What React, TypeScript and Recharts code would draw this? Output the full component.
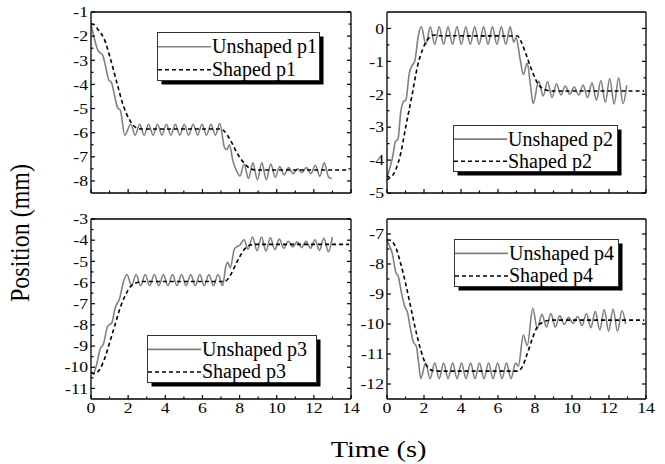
import React from 'react';
import { LineChart, Line, XAxis, YAxis, Legend } from 'recharts';

type Pt = [number, number];

const FONT = '"Liberation Serif", "Times New Roman", Times, serif';
const STRETCH = 1.18; // axis text in the source figure is widened a little

// time axis (s)
const xMajor = [0, 2, 4, 6, 8, 10, 12, 14];
const xMinor = [1, 3, 5, 7, 9, 11, 13];

// position axes (mm)
const p1Ticks = [-8, -7, -6, -5, -4, -3, -2, -1];
const p1Minor = [-7.5, -6.5, -5.5, -4.5, -3.5, -2.5, -1.5];
const p2Ticks = [-5, -4, -3, -2, -1, 0];
const p2Minor = [-4.5, -3.5, -2.5, -1.5, -0.5];
const p3Ticks = [-11, -10, -9, -8, -7, -6, -5, -4, -3];
const p3Minor = [-10.5, -9.5, -8.5, -7.5, -6.5, -5.5, -4.5, -3.5];
const p4Ticks = [-12, -11, -10, -9, -8, -7];
const p4Minor = [-11.5, -10.5, -9.5, -8.5, -7.5];

// [time, position]
const unshapedP1: Pt[] = [
  [0, -1.5], [0.15, -2.0], [0.35, -2.55], [0.5, -2.7], [0.62, -2.78], [0.8, -3.3], [0.95, -3.8], [1.1, -3.92],
  [1.28, -4.5], [1.42, -4.95], [1.58, -5.08], [1.82, -6.1],
  [2.14, -5.65], [2.38, -6.1], [2.62, -5.65], [2.86, -6.1], [3.1, -5.65], [3.34, -6.1], [3.58, -5.65], [3.82, -6.1],
  [4.06, -5.65], [4.3, -6.1], [4.54, -5.65], [4.78, -6.1], [5.02, -5.65], [5.26, -6.1], [5.5, -5.65], [5.74, -6.1],
  [5.98, -5.65], [6.22, -6.1], [6.46, -5.65], [6.7, -6.1], [6.94, -5.62],
  [7.18, -6.6], [7.32, -6.7], [7.45, -6.5], [7.65, -7.2], [7.85, -7.6], [8.02, -7.8],
  [8.24, -7.3], [8.48, -7.9], [8.72, -7.25], [8.96, -7.95], [9.2, -7.25], [9.44, -7.95], [9.68, -7.3], [9.92, -7.85],
  [10.16, -7.4], [10.4, -7.75], [10.64, -7.45], [10.88, -7.7], [11.12, -7.5], [11.36, -7.65], [11.6, -7.45], [11.84, -7.7],
  [12.08, -7.35], [12.32, -7.8], [12.56, -7.25], [12.8, -7.85], [12.96, -7.9],
];
const shapedP1: Pt[] = [
  [0, -1.5], [0.15, -1.52], [0.4, -1.75], [0.7, -2.1], [1.05, -2.95], [1.4, -3.95], [1.75, -4.9], [2.1, -5.5],
  [2.4, -5.78], [2.7, -5.85], [7.0, -5.85], [7.15, -5.92], [7.5, -6.3], [7.87, -6.85], [8.23, -7.25], [8.6, -7.5],
  [8.9, -7.55], [13.9, -7.55],
];

const unshapedP2: Pt[] = [
  [0, -4.55], [0.12, -4.3], [0.29, -3.95], [0.45, -3.45], [0.6, -3.35], [0.74, -2.55], [0.9, -2.22], [1.02, -2.18],
  [1.2, -1.37], [1.36, -1.12], [1.5, -1.0], [1.7, -0.2], [1.86, 0.05],
  [2.1, -0.48], [2.34, 0.05], [2.58, -0.48], [2.82, 0.05], [3.06, -0.48], [3.3, 0.05], [3.54, -0.48], [3.78, 0.05],
  [4.02, -0.48], [4.26, 0.05], [4.5, -0.48], [4.74, 0.05], [4.98, -0.48], [5.22, 0.05], [5.46, -0.48], [5.7, 0.05],
  [5.94, -0.48], [6.18, 0.05], [6.42, -0.48], [6.66, 0.05],
  [6.85, -0.42], [6.98, -0.28], [7.2, -0.95], [7.37, -1.4], [7.58, -1.05], [7.75, -1.7], [7.9, -2.28],
  [8.2, -1.6], [8.44, -2.05], [8.68, -1.62], [8.92, -2.1], [9.16, -1.68], [9.4, -2.02], [9.64, -1.75], [9.88, -2.0],
  [10.12, -1.78], [10.36, -2.02], [10.6, -1.72], [10.84, -2.1], [11.08, -1.65], [11.32, -2.18], [11.56, -1.58],
  [11.8, -2.25], [12.04, -1.52], [12.28, -2.3], [12.52, -1.5], [12.76, -2.28], [12.96, -1.72],
];
const shapedP2: Pt[] = [
  [0, -4.6], [0.1, -4.56], [0.47, -4.3], [0.74, -3.8], [1.01, -3.0], [1.37, -1.98], [1.64, -1.17], [1.91, -0.66],
  [2.18, -0.35], [2.54, -0.2], [2.8, -0.22], [7.05, -0.23], [7.25, -0.4], [7.5, -0.76], [7.86, -1.32], [8.2, -1.72],
  [8.56, -1.86], [8.9, -1.9], [13.9, -1.9],
];

const unshapedP3: Pt[] = [
  [0, -10.2], [0.12, -10.3], [0.31, -9.85], [0.49, -9.15], [0.67, -8.9], [0.9, -8.06], [1.12, -7.9], [1.3, -7.2],
  [1.54, -6.75], [1.75, -5.95], [1.94, -5.62],
  [2.18, -6.15], [2.43, -5.62], [2.67, -6.15], [2.92, -5.62], [3.16, -6.15], [3.41, -5.62], [3.65, -6.15], [3.9, -5.62],
  [4.14, -6.15], [4.39, -5.62], [4.63, -6.15], [4.88, -5.62], [5.12, -6.15], [5.37, -5.62], [5.61, -6.15], [5.86, -5.62],
  [6.1, -6.15], [6.35, -5.62], [6.59, -6.15], [6.84, -5.62], [7.08, -6.15],
  [7.27, -5.2], [7.36, -5.05], [7.5, -5.3], [7.72, -4.42], [7.88, -4.3], [8.0, -4.25],
  [8.24, -3.98], [8.46, -4.42], [8.7, -3.85], [8.94, -4.5], [9.18, -3.85], [9.42, -4.52], [9.66, -3.88], [9.9, -4.45],
  [10.14, -3.95], [10.38, -4.38], [10.62, -4.05], [10.86, -4.32], [11.1, -4.08], [11.34, -4.35], [11.58, -4.05],
  [11.82, -4.38], [12.06, -3.98], [12.3, -4.48], [12.54, -3.9], [12.78, -4.55], [13.0, -3.85],
];
const shapedP3: Pt[] = [
  [0, -10.25], [0.22, -10.3], [0.49, -10.07], [0.76, -9.53], [1.03, -8.76], [1.3, -7.98], [1.57, -7.2], [1.85, -6.6],
  [2.12, -6.2], [2.48, -6.0], [2.8, -5.95], [7.18, -5.95], [7.45, -5.74], [7.72, -5.28], [7.99, -4.81], [8.27, -4.42],
  [8.54, -4.24], [8.85, -4.2], [13.9, -4.2],
];

const unshapedP4: Pt[] = [
  [0, -7.2], [0.1, -7.35], [0.29, -7.66], [0.47, -8.27], [0.61, -8.41], [0.79, -8.99], [0.97, -9.43], [1.1, -9.6],
  [1.28, -10.2], [1.42, -10.59], [1.59, -10.75], [1.72, -11.35], [1.82, -11.82],
  [2.09, -11.3], [2.33, -11.82], [2.58, -11.3], [2.82, -11.82], [3.06, -11.3], [3.3, -11.82], [3.55, -11.3], [3.79, -11.82],
  [4.03, -11.3], [4.27, -11.82], [4.52, -11.3], [4.76, -11.82], [5.0, -11.3], [5.24, -11.82], [5.49, -11.3], [5.73, -11.82],
  [5.98, -11.3], [6.22, -11.82], [6.46, -11.3], [6.7, -11.82], [6.95, -11.3],
  [7.1, -11.4], [7.37, -10.37], [7.58, -10.72], [7.88, -9.48], [8.12, -10.15], [8.38, -9.68], [8.62, -10.1], [8.86, -9.65],
  [9.1, -10.1], [9.34, -9.72], [9.58, -10.02], [9.82, -9.78], [10.06, -9.98], [10.3, -9.75], [10.54, -10.05], [10.78, -9.65],
  [11.02, -10.12], [11.26, -9.58], [11.5, -10.2], [11.74, -9.52], [11.98, -10.24], [12.22, -9.5], [12.46, -10.25],
  [12.7, -9.55], [12.9, -10.0],
];
const shapedP4: Pt[] = [
  [0, -7.2], [0.13, -7.2], [0.47, -7.44], [0.74, -7.99], [1.01, -8.66], [1.28, -9.43], [1.55, -10.2], [1.82, -10.86],
  [2.09, -11.33], [2.45, -11.55], [2.8, -11.57], [7.05, -11.57], [7.32, -11.42], [7.59, -10.97], [7.86, -10.48],
  [8.13, -10.09], [8.5, -9.92], [8.85, -9.87], [13.9, -9.87],
];

// margins leave 1px for each axis strip, so the plot boxes land on the reference frames
const panels = [
  { id: 'p1', unshaped: unshapedP1, shaped: shapedP1, domain: [-8.5, -1], ticks: p1Ticks, minor: p1Minor,
    margin: { top: 11, left: 90, right: 313, bottom: 270 }, legend: { left: 157, top: 32, width: 163, height: 49 }, showX: false },
  { id: 'p2', unshaped: unshapedP2, shaped: shapedP2, domain: [-5, 0.5], ticks: p2Ticks, minor: p2Minor,
    margin: { top: 11, left: 386, right: 18, bottom: 270 }, legend: { left: 453, top: 125, width: 165, height: 47 }, showX: false },
  { id: 'p3', unshaped: unshapedP3, shaped: shapedP3, domain: [-11.5, -3], ticks: p3Ticks, minor: p3Minor,
    margin: { top: 218, left: 90, right: 313, bottom: 64 }, legend: { left: 147, top: 335, width: 170, height: 48 }, showX: true },
  { id: 'p4', unshaped: unshapedP4, shaped: shapedP4, domain: [-12.5, -6.5], ticks: p4Ticks, minor: p4Minor,
    margin: { top: 218, left: 386, right: 18, bottom: 64 }, legend: { left: 454, top: 239, width: 165, height: 48 }, showX: true },
];

const rows = (pts: Pt[]) => pts.map(([t, y]) => ({ t, y }));

const ink = { stroke: '#000', strokeWidth: 1.3 };

// ticks point inwards; minor ones are shorter, labels only on major ones
const makeTick = (side: string, labels: boolean) => (p: any) => {
  const v = p.payload.value;
  const horizontal = side === 'bottom' || side === 'top';
  const major = horizontal ? v % 2 === 0 : Number.isInteger(v);
  const len = major ? 4 : 2.5;
  const { x, y } = p;
  const seg =
    side === 'bottom' ? { x1: x, x2: x, y1: y, y2: y - len }
    : side === 'top' ? { x1: x, x2: x, y1: y, y2: y + len }
    : side === 'left' ? { x1: x, x2: x + len, y1: y, y2: y }
    : { x1: x, x2: x - len, y1: y, y2: y };
  return (
    <g>
      <line {...seg} stroke="#000" strokeWidth={1.2} />
      {labels && major && (
        <text
          transform={horizontal ? `translate(${x},${y + 3}) scale(${STRETCH},1)` : `translate(${x - 3},${y}) scale(${STRETCH},1)`}
          dy={horizontal ? '0.71em' : '0.35em'} textAnchor={horizontal ? 'middle' : 'end'}
          fontSize={15} fontFamily={FONT} fill="#000">
          {v}
        </text>
      )}
    </g>
  );
};

// framed legend with a hard drop shadow, as in the source plots
const LegendBox = ({ payload, box }: any) => {
  const items = [...(payload || [])].sort((a: any) => (String(a.value).startsWith('Un') ? -1 : 1));
  const { width: w, height: h } = box;
  return (
    <svg width={w + 5} height={h + 5} style={{ display: 'block' }}>
      <rect x={4.5} y={4.5} width={w - 1} height={h - 1} fill="#000" />
      <rect x={0.5} y={0.5} width={w - 1} height={h - 1} fill="#fff" stroke="#333" strokeWidth={1} />
      {items.map((e: any, i: number) => {
        const cy = i === 0 ? h * 0.3 : h * 0.77;
        return (
          <g key={e.value}>
            <line x1={1} x2={54} y1={cy} y2={cy} stroke={e.color} strokeWidth={1.6}
              strokeDasharray={String(e.value).startsWith('Shaped') ? '4 3' : undefined} />
            <text x={55} y={cy + 6.5} fontSize={20} fontFamily={FONT} fill="#000">
              {e.value}
            </text>
          </g>
        );
      })}
    </svg>
  );
};

const frame = (p: any) => {
  const base = { type: 'number' as const, allowDataOverflow: true, interval: 0 as const, axisLine: ink,
    tickLine: false, tickSize: 0, tickMargin: 0 };
  const xTicks = [...xMajor, ...xMinor];
  const yTicks = [...p.ticks, ...p.minor];
  return [
    <XAxis key="xb" xAxisId="x" dataKey="t" orientation="bottom" domain={[0, 14]} ticks={xTicks} height={1}
      tick={makeTick('bottom', p.showX)} {...base} />,
    <XAxis key="xt" xAxisId="xt" orientation="top" domain={[0, 14]} ticks={xTicks} height={1}
      tick={makeTick('top', false)} {...base} />,
    <YAxis key="yl" yAxisId="y" orientation="left" domain={p.domain} ticks={yTicks} width={1}
      tick={makeTick('left', true)} {...base} />,
    <YAxis key="yr" yAxisId="yr" orientation="right" domain={p.domain} ticks={yTicks} width={1}
      tick={makeTick('right', false)} {...base} />,
  ];
};

export default function App() {
  return (
    <div style={{ position: 'absolute', left: 0, top: 0, width: 665, height: 464, background: '#fff', overflow: 'hidden', fontFamily: FONT }}>
      {panels.map((p) => (
        <div key={p.id} style={{ position: 'absolute', left: 0, top: 0 }}>
          <LineChart width={665} height={464} margin={p.margin}>
            {frame(p)}
            <Line data={rows(p.unshaped)} dataKey="y" name={`Unshaped ${p.id}`} xAxisId="x" yAxisId="y" type="monotone"
              stroke="#808080" strokeWidth={1.6} dot={false} isAnimationActive={false} />
            <Line data={rows(p.shaped)} dataKey="y" name={`Shaped ${p.id}`} xAxisId="x" yAxisId="y" type="monotone"
              stroke="#000" strokeWidth={1.6} strokeDasharray="4 3" dot={false} isAnimationActive={false} />
            <Legend content={(props: any) => <LegendBox {...props} box={p.legend} />}
              layout="horizontal" verticalAlign="middle" align="center"
              wrapperStyle={{ left: p.legend.left, top: p.legend.top, width: 'auto', height: 'auto', lineHeight: 0 }} />
          </LineChart>
        </div>
      ))}
      <div style={{ position: 'absolute', left: 20 - 100, top: 233 - 15, width: 200, height: 30, lineHeight: '30px',
        textAlign: 'center', fontSize: 24, transform: `rotate(-90deg) scaleY(${STRETCH})` }}>
        Position (mm)
      </div>
      <div style={{ position: 'absolute', left: 379 - 100, top: 434, width: 200, height: 30, lineHeight: '30px',
        textAlign: 'center', fontSize: 24 }}>
        <span style={{ display: 'inline-block', transform: `scaleX(${STRETCH})` }}>Time (s)</span>
      </div>
    </div>
  );
}
